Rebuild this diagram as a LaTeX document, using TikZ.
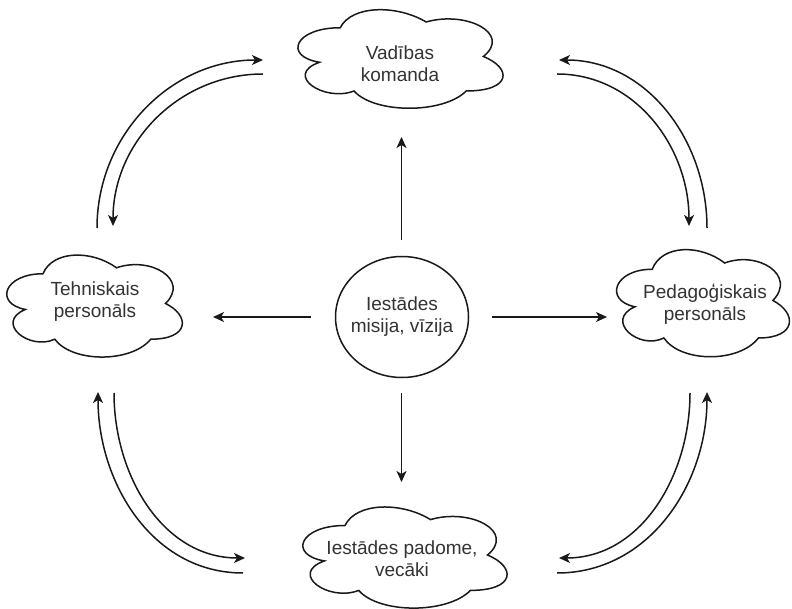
\documentclass[tikz,border=0pt]{standalone}
\usepackage{fontspec}
\setmainfont{Liberation Sans}
\usetikzlibrary{arrows.meta,shapes.geometric}
\tikzset{
  lbl/.style={font=\fontsize{19}{22}\selectfont, align=center, text=black!80, inner sep=0pt},
  cloudline/.style={draw=black!90, line width=1.5pt, fill=white},
  arr/.style={draw=black!90, line width=1.5pt, -{Stealth[length=11pt,width=10pt,inset=3pt]}},
}
\newcommand\drawmycloud[4]{%
  \begin{scope}[shift={(#1,#2)}, x=#3pt, y=-#4pt]
    \path[cloudline] (0.25,0.25) .. controls (0.05,0.25) and (0,0.5) .. (0.16,0.55)
      .. controls (0,0.66) and (0.18,0.9) .. (0.31,0.8)
      .. controls (0.4,1) and (0.7,1) .. (0.8,0.8)
      .. controls (1,0.8) and (1,0.6) .. (0.875,0.5)
      .. controls (1,0.3) and (0.8,0.1) .. (0.625,0.2)
      .. controls (0.5,0.05) and (0.3,0.05) .. (0.25,0.25) -- cycle;
  \end{scope}}
\begin{document}
\begin{tikzpicture}[x=1pt, y=-1pt]
\useasboundingbox[fill=white] (0,0) rectangle (792,609);
% clouds
\drawmycloud{283}{-1}{229}{115}
\drawmycloud{-6}{244}{196}{119}
\drawmycloud{604}{238}{193}{125}
\drawmycloud{288}{496}{228}{118}
\node[lbl] (top) at (400,64) {Vadības\\komanda};
\node[lbl] (left) at (95,302) {Tehniskais\\personāls};
\node[lbl] (right) at (705,304) {Pedagoģiskais\\personāls};
\node[lbl] (bottom) at (402,559) {Iestādes padome,\\vecāki};
% centre
\node[draw=black!90, line width=1.5pt, ellipse, minimum width=133pt, minimum height=121pt, inner sep=0pt] (c) at (402,317) {};
\node[lbl] (ctext) at (402,317) {Iestādes\\misija, vīzija};
% straight arrows
\coordinate (uS) at (401.5,240);  \coordinate (uE) at (401.5,137);
\coordinate (lS) at (311,317);  \coordinate (lE) at (213,317);
\coordinate (rS) at (492,317);  \coordinate (rE) at (607,317);
\coordinate (dS) at (401.5,393);  \coordinate (dE) at (401.5,482);
\draw[arr] (uS) -- (uE);
\draw[arr] (lS) -- (lE);
\draw[arr] (rS) -- (rE);
\draw[arr] (dS) -- (dE);
% top-left
\coordinate (tl1) at (97,228);  \coordinate (tl2) at (263,60);
\coordinate (tl3) at (263,74);  \coordinate (tl4) at (113,226);
\draw[arr] (tl1) to[out=90,in=180] (tl2);
\draw[arr] (tl3) to[out=180,in=90] (tl4);
% top-right
\coordinate (tr1) at (707,228);  \coordinate (tr2) at (559,60);
\coordinate (tr3) at (557,74);  \coordinate (tr4) at (689,226);
\draw[arr] (tr1) to[out=90,in=0] (tr2);
\draw[arr] (tr3) to[out=0,in=90] (tr4);
% bottom-left
\coordinate (bl1) at (243,573);  \coordinate (bl2) at (98,392);
\coordinate (bl3) at (114,393);  \coordinate (bl4) at (245,558);
\draw[arr] (bl1) to[out=180,in=-90] (bl2);
\draw[arr] (bl3) to[out=-90,in=180] (bl4);
% bottom-right
\coordinate (br1) at (557,573);  \coordinate (br2) at (707,392);
\coordinate (br3) at (690,393);  \coordinate (br4) at (559,558);
\draw[arr] (br1) to[out=0,in=-90] (br2);
\draw[arr] (br3) to[out=-90,in=0] (br4);
\end{tikzpicture}
\end{document}
